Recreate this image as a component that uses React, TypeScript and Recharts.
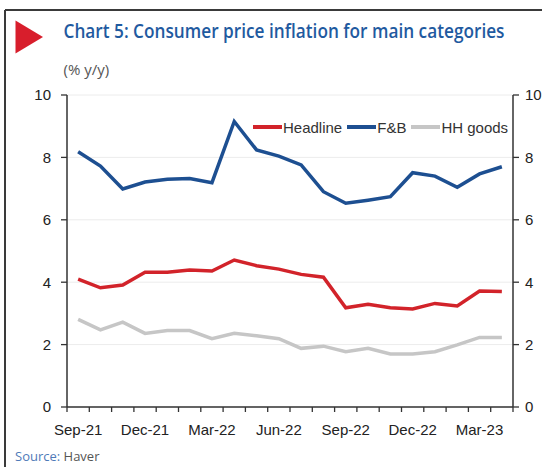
import React from 'react';
import { LineChart, Line, XAxis, YAxis, CartesianGrid } from 'recharts';

const months = [
  'Sep-21', 'Oct-21', 'Nov-21', 'Dec-21', 'Jan-22', 'Feb-22', 'Mar-22', 'Apr-22', 'May-22', 'Jun-22',
  'Jul-22', 'Aug-22', 'Sep-22', 'Oct-22', 'Nov-22', 'Dec-22', 'Jan-23', 'Feb-23', 'Mar-23', 'Apr-23',
];
const headline = [4.10, 3.82, 3.91, 4.32, 4.32, 4.39, 4.36, 4.71, 4.53, 4.42, 4.25, 4.16, 3.18, 3.29, 3.18, 3.14, 3.32, 3.24, 3.72, 3.70];
const fnb = [8.18, 7.72, 6.99, 7.21, 7.30, 7.32, 7.19, 9.15, 8.24, 8.04, 7.76, 6.90, 6.53, 6.63, 6.74, 7.51, 7.40, 7.04, 7.47, 7.70];
const hhGoods = [2.81, 2.47, 2.72, 2.36, 2.45, 2.45, 2.19, 2.36, 2.28, 2.19, 1.88, 1.95, 1.77, 1.88, 1.70, 1.70, 1.77, 1.99, 2.23, 2.23];
const yTicks = [0, 2, 4, 6, 8, 10];
const labelEvery = 3;

const series = [
  { key: 'headline', name: 'Headline', color: '#d2232a', axis: 'left' },
  { key: 'fnb', name: 'F&B', color: '#1d4f91', axis: 'left' },
  { key: 'hh', name: 'HH goods', color: '#c6c6c6', axis: 'right' },
];

const data = months.map((m, i) => ({ month: m, headline: headline[i], fnb: fnb[i], hh: hhGoods[i] }));

const FONT = '"Liberation Sans", Arial, sans-serif';
const AXIS = '#333333';

function XTick(props: any) {
  const { x, y, payload, index } = props;
  const half = payload && payload.offset ? payload.offset : 0;
  const showLabel = index % labelEvery === 0;
  const isLast = index === months.length - 1;
  return (
    <g>
      <line x1={x - half} x2={x - half} y1={y} y2={y + 5} stroke={AXIS} strokeWidth={1.3} />
      {isLast && <line x1={x + half} x2={x + half} y1={y} y2={y + 5} stroke={AXIS} strokeWidth={1.3} />}
      {showLabel && (
        <text x={x} y={y + 28} textAnchor="middle" fontSize={15} fontFamily={FONT} fill="#222">
          {payload.value}
        </text>
      )}
    </g>
  );
}

export default function App() {
  return (
    <div style={{ position: 'absolute', left: 0, top: 0, width: 542, height: 467, background: '#fff', overflow: 'hidden' }}>
      <LineChart width={542} height={467} data={data} margin={{ top: 95, right: 0, bottom: 30, left: 27 }}>
        <CartesianGrid yAxisId="left" vertical={false} stroke="#ececec" strokeWidth={1} />
        <XAxis
          dataKey="month"
          scale="band"
          interval={0}
          height={30}
          tickLine={false}
          tickSize={0}
          tickMargin={0}
          axisLine={{ stroke: AXIS, strokeWidth: 1.5 }}
          tick={<XTick />}
        />
        <YAxis
          yAxisId="left"
          orientation="left"
          width={40}
          domain={[0, 10]}
          ticks={yTicks}
          tickSize={6}
          tickMargin={10}
          axisLine={{ stroke: AXIS, strokeWidth: 1.5 }}
          tickLine={{ stroke: AXIS, strokeWidth: 1.3 }}
          tick={{ fill: '#222', fontSize: 15, fontFamily: FONT }}
        />
        <YAxis
          yAxisId="right"
          orientation="right"
          width={29}
          domain={[0, 10]}
          ticks={yTicks}
          tickSize={6}
          tickMargin={6}
          axisLine={{ stroke: AXIS, strokeWidth: 1.5 }}
          tickLine={{ stroke: AXIS, strokeWidth: 1.3 }}
          tick={{ fill: '#222', fontSize: 15, fontFamily: FONT, textAnchor: 'start' }}
        />
        {series.slice().reverse().map((s) => (
          <Line
            key={s.key}
            yAxisId={s.axis}
            type="linear"
            dataKey={s.key}
            name={s.name}
            stroke={s.color}
            strokeWidth={3.5}
            dot={false}
            isAnimationActive={false}
          />
        ))}
      </LineChart>

      <svg width={542} height={467} style={{ position: 'absolute', left: 0, top: 0, pointerEvents: 'none' }}>
        <line x1={5} y1={10} x2={542} y2={10} stroke="#3a3a3a" strokeWidth={2} />
        <line x1={5} y1={10} x2={5} y2={467} stroke="#3a3a3a" strokeWidth={2} />
        <polygon points="15.5,20.5 15.5,53.5 43,37" fill="#d81e2c" />
        <text x={63.5} y={38} fontSize={20} fontWeight={600} fill="#1f5aa0" fontFamily='"Open Sans", sans-serif' textLength={441} lengthAdjust="spacingAndGlyphs">
          Chart 5: Consumer price inflation for main categories
        </text>
        <text x={63.5} y={75} fontSize={15} fill="#555" fontFamily='"Open Sans", sans-serif'>
          (% y/y)
        </text>
        <text x={15} y={461} fontSize={13} fontFamily='"Open Sans", sans-serif'>
          <tspan fill="#4f7ab8">Source: </tspan>
          <tspan fill="#555">Haver</tspan>
        </text>
      </svg>

      <div style={{ position: 'absolute', left: 253, top: 117, height: 20, display: 'flex', alignItems: 'center', fontFamily: FONT, fontSize: 15, color: '#333', whiteSpace: 'nowrap' }}>
        {series.map((s) => (
          <div key={s.key} style={{ display: 'flex', alignItems: 'center', marginRight: 5 }}>
            <div style={{ width: 29, height: 3.5, background: s.color, marginRight: 1 }} />
            <span>{s.name}</span>
          </div>
        ))}
      </div>
    </div>
  );
}
